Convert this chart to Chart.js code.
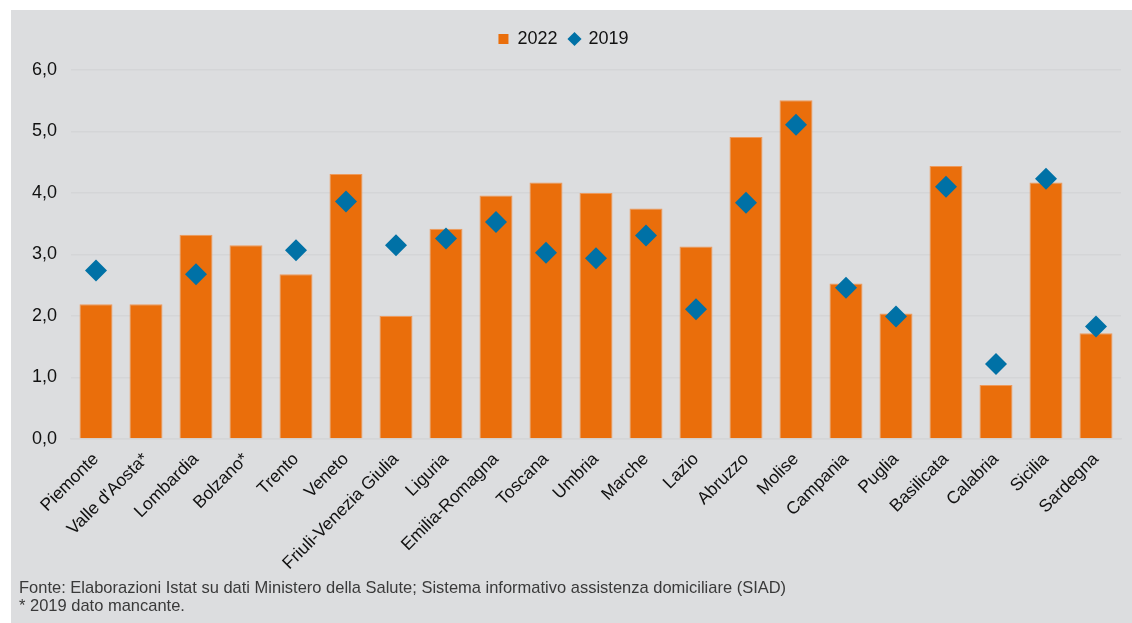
<!DOCTYPE html>
<html>
<head>
<meta charset="utf-8">
<script src="https://cdn.jsdelivr.net/npm/chart.js@4/dist/chart.umd.min.js"></script>
<style>
  html, body { margin: 0; padding: 0; background: #ffffff; }
  #pannello {
    position: absolute; left: 11px; top: 10px; width: 1121px; height: 613px;
    background: #dcdddf;
  }
  #contenitore { position: absolute; left: 0; top: 0; width: 1121px; height: 613px; }
  #nota {
    position: absolute; left: 8px; top: 569px; white-space: nowrap;
    font-family: "Liberation Sans Narrow", "Liberation Sans", Arial, sans-serif;
    font-size: 17px; line-height: 18px; color: #3a3a3a;
    transform: scaleX(0.97); transform-origin: left top;
  }
</style>
</head>
<body>
<div id="pannello">
  <div id="contenitore"><canvas id="grafico"></canvas></div>
  <div id="nota">Fonte: Elaborazioni Istat su dati Ministero della Salute; Sistema informativo assistenza domiciliare (SIAD)<br>* 2019 dato mancante.</div>
</div>
<script>
  // Regioni (asse x)
  const regioni = ["Piemonte", "Valle d'Aosta*", "Lombardia", "Bolzano*", "Trento", "Veneto",
    "Friuli-Venezia Giulia", "Liguria", "Emilia-Romagna", "Toscana", "Umbria", "Marche", "Lazio",
    "Abruzzo", "Molise", "Campania", "Puglia", "Basilicata", "Calabria", "Sicilia", "Sardegna"];

  // Valori 2022 (barre)
  const valori2022 = [2.19, 2.19, 3.32, 3.15, 2.68, 4.31, 2.00, 3.42, 3.96, 4.17, 4.00, 3.75, 3.13,
    4.91, 5.51, 2.53, 2.04, 4.44, 0.88, 4.17, 1.72];

  // Valori 2019 (rombi), null = dato mancante
  const valori2019 = [2.74, null, 2.68, null, 3.07, 3.86, 3.15, 3.26, 3.53, 3.03, 2.94, 3.31, 2.11,
    3.84, 5.11, 2.46, 1.99, 4.10, 1.22, 4.23, 1.83];

  const etichette = ["2022", "2019"];

  const arancio = "#ea6e0b";
  const blu = "#0071a6";
  const griglia = "#d4d5d7";

  // spazio in piu' sotto la legenda e legenda spostata un po' a sinistra
  const spazioLegenda = {
    id: "spazioLegenda",
    afterInit(chart) {
      const fitOrig = chart.legend.fit;
      chart.legend.fit = function () {
        fitOrig.bind(chart.legend)();
        this.height += 12;
      };
    },
    afterLayout(chart) {
      chart.legend.left -= 6;
      chart.legend.right -= 6;
    },
  };

  new Chart(document.getElementById("grafico"), {
    data: {
      labels: regioni,
      datasets: [
        {
          type: "bar",
          label: etichette[0],
          data: valori2022,
          backgroundColor: arancio,
          borderColor: "#ee9a5c",
          borderWidth: 1,
          categoryPercentage: 1,
          barPercentage: 0.66,
          order: 2,
        },
        {
          type: "line",
          label: etichette[1],
          data: valori2019,
          showLine: false,
          pointStyle: "rectRot",
          pointRadius: 11,
          pointHoverRadius: 11,
          pointBackgroundColor: blu,
          pointBorderColor: blu,
          pointBorderWidth: 0,
          backgroundColor: blu,
          borderColor: blu,
          order: 1,
        },
      ],
    },
    plugins: [spazioLegenda],
    options: {
      responsive: true,
      maintainAspectRatio: false,
      animation: false,
      layout: { padding: { left: 0, right: 4, top: 8, bottom: 43 } },
      plugins: {
        tooltip: { enabled: false },
        legend: {
          position: "top",
          labels: {
            usePointStyle: true,
            boxWidth: 10,
            boxHeight: 10,
            padding: 12,
            color: "#111",
            font: { family: "'Liberation Sans', Arial, sans-serif", size: 18 },
            sort: (a, b) => a.datasetIndex - b.datasetIndex,
            generateLabels(chart) {
              const base = Chart.defaults.plugins.legend.labels.generateLabels(chart);
              base.forEach((l) => {
                const primo = l.datasetIndex === 0;
                l.pointStyle = primo ? "rect" : "rectRot";
                l.fillStyle = primo ? arancio : blu;
                l.strokeStyle = l.fillStyle;
                l.lineWidth = 0;
              });
              return base;
            },
          },
        },
      },
      scales: {
        x: {
          grid: { display: false, drawTicks: false },
          border: { display: true, color: griglia, width: 1.5 },
          ticks: {
            color: "#111",
            minRotation: 45,
            maxRotation: 45,
            autoSkip: false,
            padding: 10,
            font: { family: "'Liberation Sans', Arial, sans-serif", size: 17.5 },
          },
          afterFit(scale) { scale.height = 141; },
        },
        y: {
          min: 0,
          max: 6,
          grid: { color: griglia, lineWidth: 1.5, drawTicks: false },
          border: { display: false },
          ticks: {
            stepSize: 1,
            padding: 14,
            color: "#111",
            font: { family: "'Liberation Sans', Arial, sans-serif", size: 18 },
            callback: (v) => v.toFixed(1).replace(".", ","),
          },
          afterFit(scale) { scale.width = 60; },
        },
      },
    },
  });
</script>
</body>
</html>
